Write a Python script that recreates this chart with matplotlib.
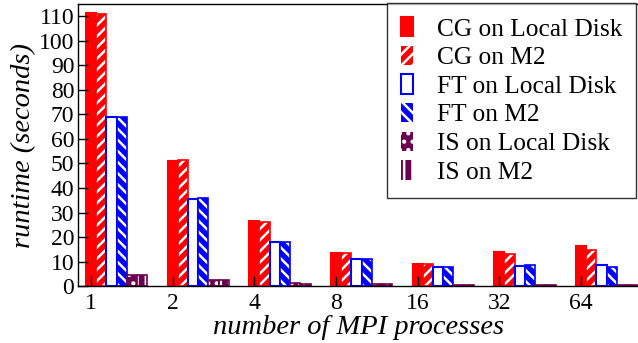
import matplotlib
matplotlib.use('Agg')
import matplotlib.pyplot as plt
from matplotlib.patches import Patch
import numpy as np

plt.rcParams['font.family'] = ['Liberation Serif', 'DejaVu Serif']
plt.rcParams['hatch.linewidth'] = 1.8

procs = ['1', '2', '4', '8', '16', '32', '64']
cg_local = [111.2, 51.0, 26.5, 13.3, 8.9, 13.9, 16.5]
cg_m2 = [110.8, 51.3, 26.3, 13.3, 8.8, 12.9, 14.9]
ft_local = [69.1, 35.5, 18.0, 11.2, 7.8, 8.0, 8.4]
ft_m2 = [68.9, 35.8, 17.8, 11.0, 7.7, 8.4, 7.8]
is_local = [4.5, 2.6, 1.2, 0.8, 0.5, 0.5, 0.6]
is_m2 = [4.5, 2.5, 1.0, 0.8, 0.5, 0.5, 0.5]

red = '#ff0000'
blue = '#0000ff'
purple = '#6b0050'

series = [
    ('CG on Local Disk', cg_local, red, red, None),
    ('CG on M2', cg_m2, red, red, '///'),
    ('FT on Local Disk', ft_local, 'white', blue, None),
    ('FT on M2', ft_m2, blue, blue, '\\\\\\'),
    ('IS on Local Disk', is_local, purple, purple, '..'),
    ('IS on M2', is_m2, purple, purple, '||'),
]

fig = plt.figure(figsize=(6.38, 3.43), dpi=100)
ax = fig.add_axes([0.123, 0.166, 0.879, 0.822])

x = np.arange(len(procs))
w = 0.125
handles = []
for k, (lab, vals, fc, ec, hatch) in enumerate(series):
    pos = x + k * w
    if hatch:
        ax.bar(pos, vals, w, color=fc, edgecolor='white', hatch=hatch, lw=0)
        ax.bar(pos, vals, w, fill=False, edgecolor=ec, lw=1.2)
        h = Patch(facecolor=fc, edgecolor='white', hatch=hatch, lw=0)
    else:
        ax.bar(pos, vals, w, color=fc, edgecolor=ec, lw=1.5)
        h = Patch(facecolor=fc, edgecolor=ec, lw=1.5)
    handles.append((h, lab))

ax.set_xlim(-0.154, 6.713)
ax.set_ylim(0, 115)
ax.set_yticks(np.arange(0, 111, 10))
ax.set_xticks(x)
ax.set_xticklabels(procs)
ax.tick_params(axis='both', direction='in', length=7, width=1, labelsize=17)
ax.tick_params(axis='y', pad=3)
ax.tick_params(axis='x', pad=5)
ax.spines['right'].set_visible(False)
for s in ['left', 'bottom', 'top']:
    ax.spines[s].set_linewidth(1.0)

ax.set_ylabel('runtime (seconds)', fontsize=20.5, style='italic', labelpad=2)
ax.set_xlabel('number of MPI processes', fontsize=20.5, style='italic', labelpad=1)

leg = ax.legend([h for h, _ in handles], [l for _, l in handles],
                loc='upper right', bbox_to_anchor=(636 / 638, 1 - 3 / 343),
                bbox_transform=fig.transFigure, fontsize=18.3, frameon=True,
                fancybox=False, handlelength=0.45, handleheight=0.8,
                handletextpad=0.95, borderpad=0.55, labelspacing=0.2,
                borderaxespad=0)
leg.get_frame().set_edgecolor('black')
leg.get_frame().set_linewidth(1.0)

fig.savefig('out.png', dpi=100)
